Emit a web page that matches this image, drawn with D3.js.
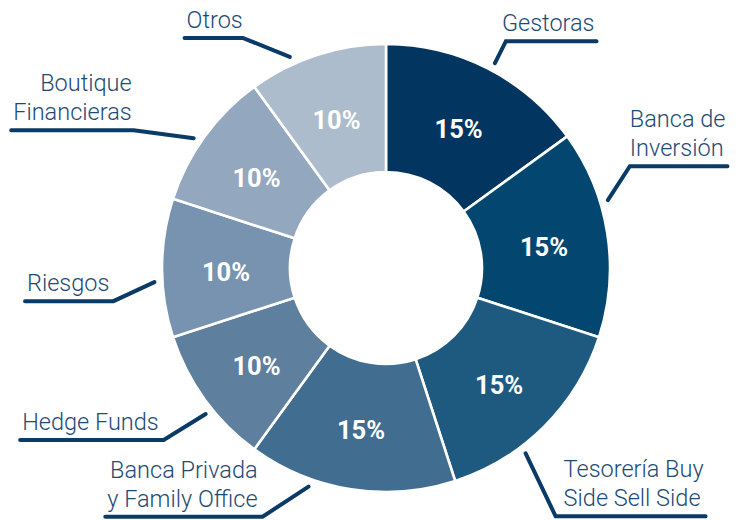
<!DOCTYPE html>
<html>
<head>
<meta charset="utf-8">
<script src="https://cdn.jsdelivr.net/npm/d3@7/dist/d3.min.js"></script>
<style>
  html, body { margin: 0; padding: 0; background: #ffffff; }
  svg { display: block; }
</style>
</head>
<body>
<svg id="chart" width="741" height="520"></svg>
<script>
// ---- data ----
const categories = [
  ["Gestoras"],
  ["Banca de", "Inversión"],
  ["Tesorería Buy", "Side Sell Side"],
  ["Banca Privada", "y Family Office"],
  ["Hedge Funds"],
  ["Riesgos"],
  ["Boutique", "Financieras"],
  ["Otros"]
];
const values = [15, 15, 15, 15, 10, 10, 10, 10];
const colors = ["#02355f", "#03466f", "#1e5a80", "#416d90", "#5e7f9e", "#7893af", "#93a8bf", "#adbccd"];

// ---- label callout layout (annotation placement, degrees clockwise from top) ----
const calloutAngle = [28, 73, 143, 199.5, 231, 266.5, 304, 335.5];
const calloutElbow = [[11, -22], [22, -34], [30, 63], [-46, 30], [-42, 26], [-41, 19], [-60, -8], [-47, -19]];
const calloutGap = [-4, 0, 8, -5, -5, -4, -2, 0];

// ---- geometry ----
const W = 741, H = 520;
const cx = 386, cy = 268;
const outerR = 224, innerR = 96;

const svg = d3.select("#chart");
const g = svg.append("g").attr("transform", `translate(${cx},${cy})`);

const pie = d3.pie().sort(null).value(d => d);
const arcs = pie(values);
const arc = d3.arc().innerRadius(innerR).outerRadius(outerR);

g.selectAll("path.slice")
  .data(arcs)
  .join("path")
  .attr("class", "slice")
  .attr("d", arc)
  .attr("fill", (d, i) => colors[i])
  .attr("stroke", "#ffffff")
  .attr("stroke-width", 2.6)
  .attr("stroke-linejoin", "miter");

g.selectAll("text.pct")
  .data(arcs)
  .join("text")
  .attr("class", "pct")
  .attr("transform", d => { const c = arc.centroid(d); return `translate(${c[0]},${c[1]})`; })
  .attr("text-anchor", "middle")
  .attr("dy", "0.5em")
  .attr("font-family", "Roboto, 'Noto Sans', sans-serif")
  .attr("font-weight", 700)
  .attr("font-size", 25.5)
  .attr("fill", "#ffffff")
  .text(d => d3.format(".0%")(d.data / 100));

// ---- callouts ----
const lineColor = "#0a3a66";
const textColor = "#1d4b75";
const fontSize = 23.5, lineH = 29;
const startR = outerR + 8;

const callouts = svg.append("g");
categories.forEach((lines, i) => {
  const a = calloutAngle[i] * Math.PI / 180;
  const sx = cx + startR * Math.sin(a);
  const sy = cy - startR * Math.cos(a);
  const ex = sx + calloutElbow[i][0];
  const ey = sy + calloutElbow[i][1];
  const right = calloutElbow[i][0] > 0;

  const t = callouts.append("text")
    .attr("font-family", "Roboto, 'Noto Sans', sans-serif")
    .attr("font-weight", 300)
    .attr("font-size", fontSize)
    .attr("fill", textColor)
    .attr("text-anchor", right ? "start" : "end");
  const n = lines.length;
  const textX = ex + calloutGap[i];
  lines.forEach((ln, j) => {
    t.append("tspan")
      .attr("x", textX)
      .attr("y", ey - 10 - (n - 1 - j) * lineH)
      .text(ln);
  });
  const bb = t.node().getBBox();
  const fx = right ? bb.x + bb.width + 2 : bb.x - 2;

  callouts.append("path")
    .attr("d", d3.line()([[sx, sy], [ex, ey], [fx, ey]]))
    .attr("fill", "none")
    .attr("stroke", lineColor)
    .attr("stroke-width", 4)
    .attr("stroke-linecap", "round")
    .attr("stroke-linejoin", "miter");
});
</script>
</body>
</html>
